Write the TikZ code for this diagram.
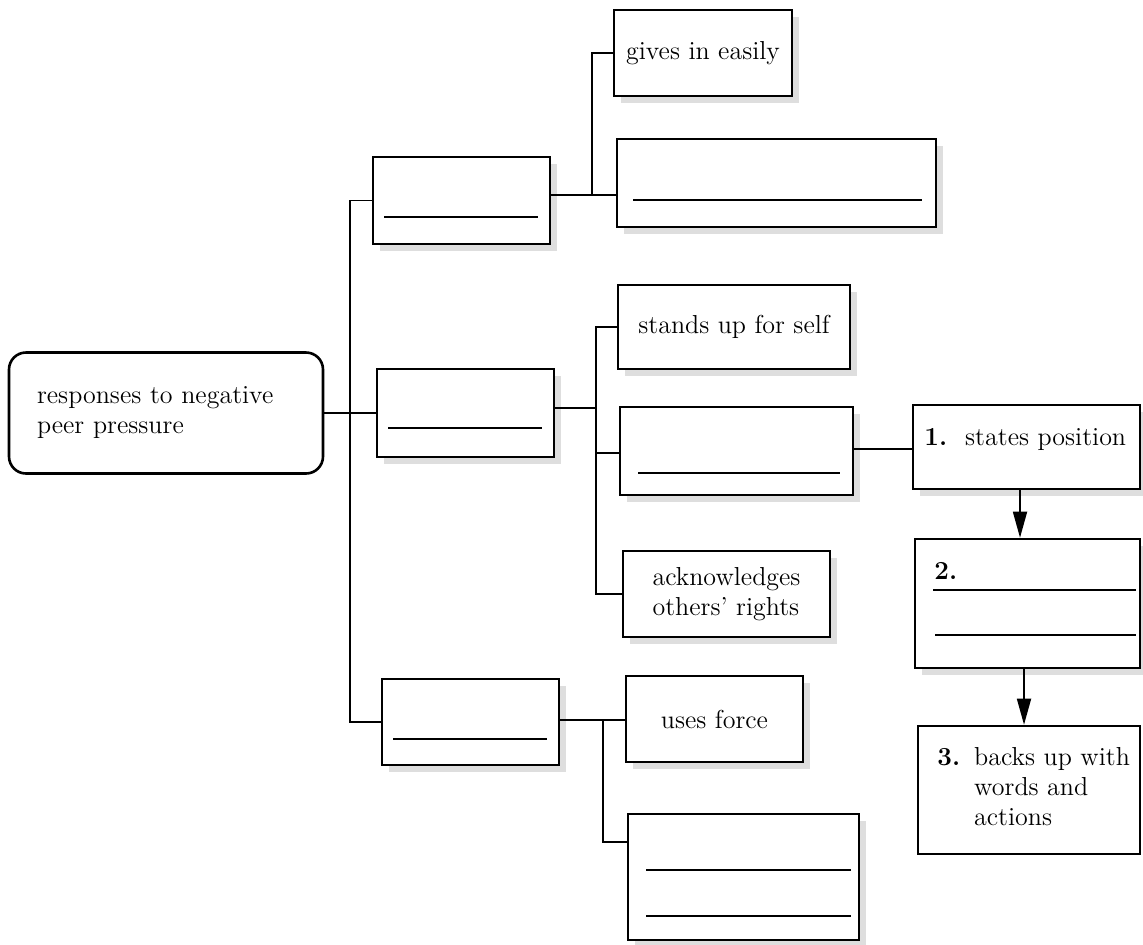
\documentclass[tikz,border=0pt]{standalone}
\usetikzlibrary{arrows.meta,shadows}
\begin{document}
\begin{tikzpicture}[x=0.5pt,y=-0.5pt,
  every node/.style={font=\fontsize{13}{15}\selectfont},
  box/.style={draw, rectangle, line width=1.3pt, fill=white, inner sep=0pt},
  shbox/.style={box, drop shadow={shadow xshift=3.5pt, shadow yshift=-3.5pt, fill=black!13, opacity=1}},
  rootbox/.style={draw, rectangle, rounded corners=8.5pt, line width=1.3pt, fill=white, inner xsep=14pt, inner ysep=0pt, align=left},
  conn/.style={line width=0.85pt},
  blank/.style={line width=1.1pt},
  arr/.style={line width=0.85pt, -{Triangle[length=13pt,width=7pt]}},
  lbl/.style={inner sep=0pt, anchor=base west}
]
\fill[white] (0,0) rectangle (1143,944);
\useasboundingbox (0,0) rectangle (1143,944);

% root
\node[rootbox, text width=129pt, minimum height=60.5pt] (root) at (166,413) {responses to negative\\peer pressure};

% level 1
\node[shbox, minimum width=88.5pt, minimum height=43.5pt] (A) at (461.5,200.5) {};
\node[shbox, minimum width=88.5pt, minimum height=44pt] (B) at (465.5,413) {};
\node[shbox, minimum width=88.5pt, minimum height=43pt] (C) at (470.5,722) {};

% level 2
\node[shbox, minimum width=89pt, minimum height=43pt] (gives) at (703,53) {gives in easily};
\node[shbox, minimum width=159.5pt, minimum height=44pt] (A2) at (776.5,183) {};
\node[shbox, minimum width=116pt, minimum height=42pt] (stands) at (734,327) {stands up for self};
\node[shbox, minimum width=116.5pt, minimum height=44pt] (B2) at (736.5,451) {};
\node[shbox, minimum width=103.5pt, minimum height=43pt, align=left] (ack) at (726.5,594) {acknowledges\\others’ rights};
\node[shbox, minimum width=88.5pt, minimum height=43pt] (uses) at (714.5,719) {uses force};
\node[shbox, minimum width=115.5pt, minimum height=63pt] (C2) at (743.5,877) {};

% steps
\node[shbox, minimum width=113.5pt, minimum height=42pt] (s1) at (1026.5,447) {};
\node[shbox, minimum width=112.5pt, minimum height=64.5pt] (s2) at (1027.5,603.5) {};
\node[box, minimum width=111pt, minimum height=64pt] (s3) at (1029,790) {};

\node[lbl] (t1) at (924,445) {\textbf{1.}\hspace{9pt}states position};
\node[lbl] (t2) at (934,579) {\textbf{2.}};
\node[lbl] (t3) at (937,765) {\begin{tabular}[t]{@{}l@{\hspace{7pt}}l@{}}\textbf{3.} & backs up with\\ & words and\\ & actions\end{tabular}};

% blank answer lines
\draw[blank] (384,217) -- (538,217);
\draw[blank] (388,428) -- (542,428);
\draw[blank] (393,739) -- (547,739);
\draw[blank] (633,200) -- (922,200);
\draw[blank] (638,473) -- (840,473);
\draw[blank] (646,870) -- (851,870);
\draw[blank] (646,916) -- (851,916);
\draw[blank] (933,590) -- (1136,590);
\draw[blank] (935,635) -- (1136,635);

% connectors
\coordinate (tr) at (350,413);
\draw[conn] (root.east) -- (B.west);
\draw[conn] (A.west) -| (tr) |- (C.west);

\coordinate (ja) at (592,195);
\draw[conn] (A.east |- ja) -- (A2.west |- ja);
\draw[conn] (gives.west) -| (ja);

\coordinate (jb) at (596,408);
\coordinate (jb2) at (596,453);
\draw[conn] (B.east |- jb) -- (jb);
\draw[conn] (stands.west) -| (jb) |- (ack.west);
\draw[conn] (jb2) -- (B2.west |- jb2);

\coordinate (jc) at (603,720);
\draw[conn] (C.east |- jc) -- (uses.west |- jc);
\draw[conn] (jc) |- ([yshift=17.5pt]C2.west);

\coordinate (j1) at (880,449);
\draw[conn] (B2.east |- j1) -- (s1.west |- j1);

\coordinate (a1) at (1020,0);
\coordinate (a2) at (1024,0);
\draw[arr] (s1.south -| a1) -- (s2.north -| a1);
\draw[arr] (s2.south -| a2) -- (s3.north -| a2);
\end{tikzpicture}
\end{document}
